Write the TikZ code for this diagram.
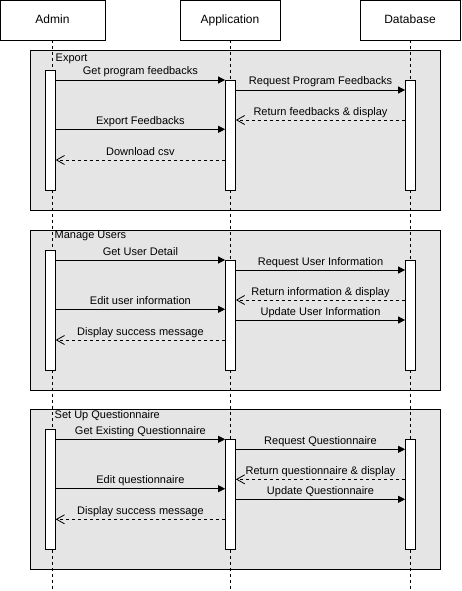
\documentclass[tikz,border=0pt]{standalone}
\usepackage{fontspec}
\setmainfont{Liberation Sans}
\usetikzlibrary{arrows.meta}
\begin{document}
\begin{tikzpicture}[x=1pt,y=-1pt,
  head/.style={draw=black,fill=white,line width=0.8pt,minimum height=40pt,inner sep=0pt,text height=8.6pt,text depth=2.4pt,font=\fontsize{12}{14}\selectfont},
  frm/.style={draw=black,fill=gray!20,line width=0.8pt},
  flabel/.style={anchor=west,inner sep=0pt,font=\fontsize{11}{13}\selectfont},
  life/.style={draw=black,line width=0.8pt,dash pattern=on 3pt off 3pt},
  act/.style={draw=black,fill=white,line width=0.8pt,minimum width=10pt,inner sep=0pt},
  msg/.style={draw=black,line width=0.8pt,-{Triangle[length=7pt,width=7pt]}},
  ret/.style={draw=black,line width=0.8pt,dash pattern=on 3pt off 3pt,-{Straight Barb[length=8pt,width=9pt,line width=0.8pt]}},
  mlabel/.style={midway,above,inner sep=0pt,yshift=2.3pt,text height=8pt,text depth=2.3pt,font=\fontsize{11}{13}\selectfont}
]
\useasboundingbox (0,0) rectangle (461,591);
% header boxes
\node[head,minimum width=105pt] (admin) at (52.5,20) {Admin};
\node[head,minimum width=100pt] (app) at (230,20) {Application};
\node[head,minimum width=100pt] (db) at (410,20) {Database};
% frames
\node[frm,minimum width=410pt,minimum height=160pt,inner sep=0pt] (f1) at (235,130) {};
\node[frm,minimum width=410pt,minimum height=160pt,inner sep=0pt] (f2) at (235,310) {};
\node[frm,minimum width=410pt,minimum height=160pt,inner sep=0pt] (f3) at (235,489.3) {};
\node[flabel] (l1) at (55.5,58.7) {Export};
\node[flabel] (l2) at (54.5,236.2) {Manage Users};
\node[flabel] (l3) at (54.5,415.7) {Set Up Questionnaire};
% lifelines
\coordinate (aend) at (52.3,591);
\coordinate (pend) at (230,591);
\coordinate (dend) at (410,591);
\draw[life] (admin.south -| aend) -- (aend);
\draw[life] (app.south) -- (pend);
\draw[life] (db.south) -- (dend);
% activations frame 1
\node[act,minimum height=120pt] (a1) at (50.3,130) {};
\node[act,minimum height=110pt] (p1) at (230.5,135) {};
\node[act,minimum height=110pt] (d1) at (410.5,135) {};
% activations frame 2
\node[act,minimum height=120pt] (a2) at (50.3,310) {};
\node[act,minimum height=110pt] (p2) at (230.5,315) {};
\node[act,minimum height=110pt] (d2) at (410.5,315) {};
% activations frame 3
\node[act,minimum height=120pt] (a3) at (50.3,489.3) {};
\node[act,minimum height=110pt] (p3) at (230.5,494.3) {};
\node[act,minimum height=110pt] (d3) at (410.5,494.3) {};
% messages frame 1
\draw[msg] (a1.east |- 0,80) -- (p1.west |- 0,80) node[mlabel] {Get program feedbacks};
\draw[msg] (p1.east |- 0,90) -- (d1.west |- 0,90) node[mlabel] {Request Program Feedbacks};
\draw[ret] (d1.west |- 0,120) -- (p1.east |- 0,120) node[mlabel] {Return feedbacks \& display};
\draw[msg] (a1.east |- 0,129.3) -- (p1.west |- 0,129.3) node[mlabel] {Export Feedbacks};
\draw[ret] (p1.west |- 0,160) -- (a1.east |- 0,160) node[mlabel] {Download csv};
% messages frame 2
\draw[msg] (a2.east |- 0,260) -- (p2.west |- 0,260) node[mlabel] {Get User Detail};
\draw[msg] (p2.east |- 0,270) -- (d2.west |- 0,270) node[mlabel] {Request User Information};
\draw[ret] (d2.west |- 0,300) -- (p2.east |- 0,300) node[mlabel] {Return information \& display};
\draw[msg] (a2.east |- 0,309.3) -- (p2.west |- 0,309.3) node[mlabel] {Edit user information};
\draw[msg] (p2.east |- 0,320) -- (d2.west |- 0,320) node[mlabel] {Update User Information};
\draw[ret] (p2.west |- 0,340) -- (a2.east |- 0,340) node[mlabel] {Display success message};
% messages frame 3
\draw[msg] (a3.east |- 0,439.3) -- (p3.west |- 0,439.3) node[mlabel] {Get Existing Questionnaire};
\draw[msg] (p3.east |- 0,449.3) -- (d3.west |- 0,449.3) node[mlabel] {Request Questionnaire};
\draw[ret] (d3.west |- 0,479.3) -- (p3.east |- 0,479.3) node[mlabel] {Return questionnaire \& display};
\draw[msg] (a3.east |- 0,488.7) -- (p3.west |- 0,488.7) node[mlabel] {Edit questionnaire};
\draw[msg] (p3.east |- 0,499.3) -- (d3.west |- 0,499.3) node[mlabel] {Update Questionnaire};
\draw[ret] (p3.west |- 0,519.3) -- (a3.east |- 0,519.3) node[mlabel] {Display success message};
\end{tikzpicture}
\end{document}
